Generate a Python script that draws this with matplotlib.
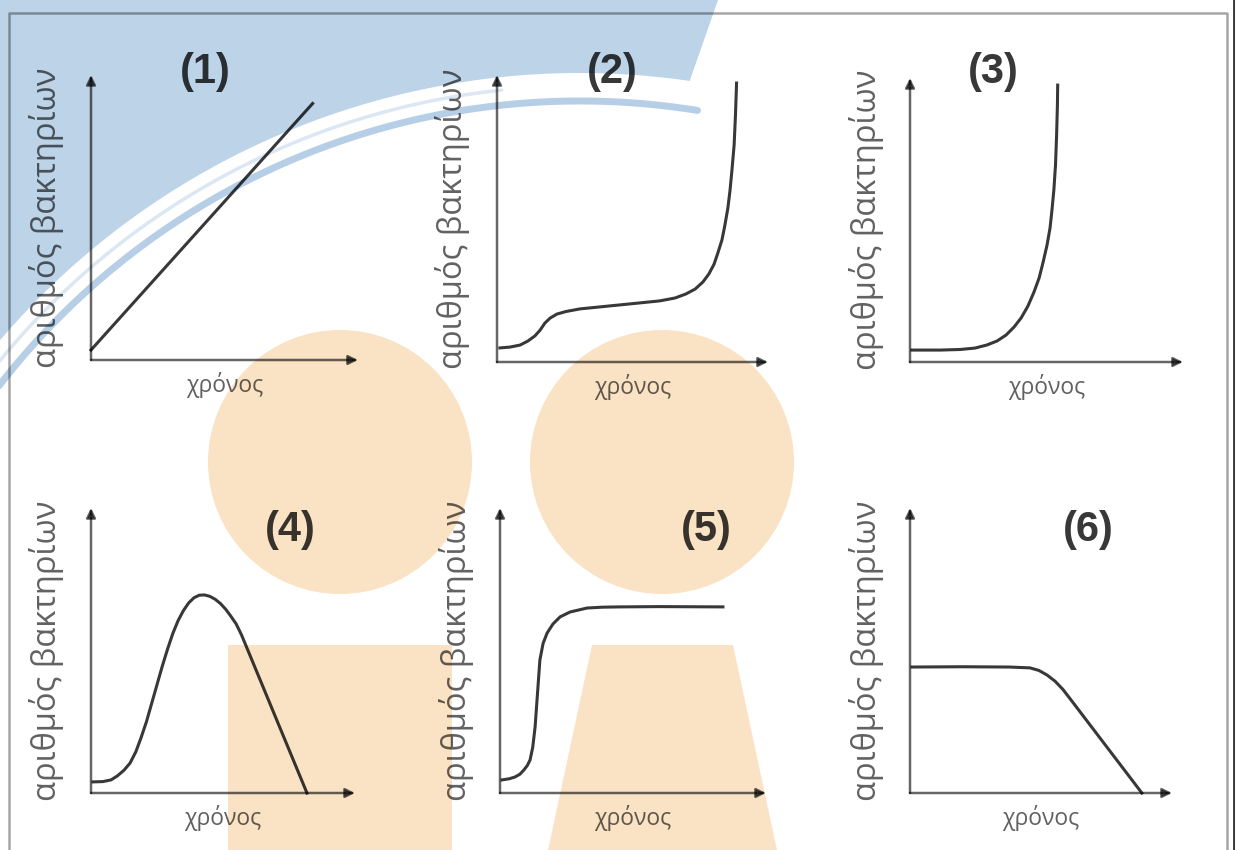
import numpy as np
import matplotlib
matplotlib.use("Agg")
import matplotlib.pyplot as plt
from matplotlib.patches import Polygon, Circle, Rectangle

W, H = 1235, 850

# text
ylabel = "αριθμός βακτηρίων"
xlabel = "χρόνος"
panel_names = ["(1)", "(2)", "(3)", "(4)", "(5)", "(6)"]

# curves (x: time 0-100, y: bacteria 0-100, 100 = arrow tip)
t1 = [0, 83]
n1 = [3.5, 90]

t2 = [1.1, 4.8, 8.5, 11.4, 14.0, 15.9, 17.7, 19.6, 22.1, 25.5, 30.6, 38.0, 45.4, 52.8, 60.1,
      65.7, 69.7, 73.1, 76.0, 78.2, 80.1, 81.5, 83.0, 84.1, 85.2, 86.0, 86.7, 87.5, 88.0, 88.4]
n2 = [4.9, 5.2, 5.9, 7.3, 9.1, 11.1, 13.6, 15.3, 16.7, 17.6, 18.5, 19.2, 19.9, 20.6, 21.3,
      22.3, 23.7, 25.4, 27.9, 30.7, 34.1, 38.0, 42.5, 47.7, 53.7, 59.9, 66.9, 75.6, 86.1, 97.2]

t3 = [0.7, 11.0, 18.3, 23.8, 28.2, 31.9, 35.2, 38.1, 40.7, 43.2, 45.4, 47.3, 48.7, 50.2, 51.3,
      52.0, 52.7, 53.3, 53.7, 54.0, 54.1]
n3 = [4.2, 4.2, 4.4, 4.9, 6.0, 7.4, 9.5, 12.3, 15.5, 19.7, 24.6, 29.6, 34.9, 41.2, 47.2,
      53.5, 60.6, 69.4, 79.9, 90.5, 97.5]

t4 = [0.8, 4.5, 7.6, 10.0, 12.5, 14.8, 17.0, 19.0, 21.0, 23.0, 25.0, 27.0, 29.0, 31.0, 33.0,
      35.0, 37.0, 39.0, 41.0, 43.0, 45.0, 47.0, 49.0, 51.0, 53.0, 55.0, 57.0, 81.8]
n4 = [3.9, 4.0, 4.6, 6.0, 8.0, 10.5, 14.5, 19.5, 25.0, 31.5, 38.0, 44.5, 50.5, 56.0, 60.5,
      64.0, 66.7, 68.5, 69.4, 69.5, 69.0, 68.0, 66.5, 64.5, 62.0, 59.3, 55.5, 0.0]

t5 = [0.8, 3.5, 5.6, 7.5, 9.0, 10.3, 11.3, 12.3, 13.2, 14.1, 15.0, 16.2, 17.7, 19.9, 22.6,
      26.3, 32.7, 38.5, 45.1, 60.0, 83.8]
n5 = [4.6, 5.0, 5.6, 6.6, 8.1, 9.7, 11.6, 16.0, 23.2, 35.0, 46.7, 52.5, 56.1, 59.3, 61.8,
      63.5, 64.9, 65.2, 65.3, 65.4, 65.3]

t6 = [0.8, 20.0, 38.0, 45.8, 49.2, 52.3, 55.4, 58.4, 61.5, 88.5]
n6 = [44.2, 44.3, 44.2, 43.9, 43.0, 41.4, 39.2, 36.3, 32.6, 0.0]

curves = [(t1, n1), (t2, n2), (t3, n3), (t4, n4), (t5, n5), (t6, n6)]

# layout in pixels: origin x, origin y, x arrow tip, y arrow tip
panel_px = [(91, 360, 358, 75), (497, 362, 768, 75), (910, 362, 1183, 78),
            (91, 793, 355, 508), (500, 793, 766, 508), (910, 793, 1172, 508)]
name_px = [(205, 72), (612, 72), (993, 72), (290, 530), (706, 530), (1088, 530)]

fig = plt.figure(figsize=(W / 100, H / 100), dpi=100)
fig.patch.set_facecolor("white")

# background decoration
bg = fig.add_axes([0, 0, 1, 1])
bg.set_xlim(0, W)
bg.set_ylim(H, 0)
bg.axis("off")

cx, cy, r0 = 580, 836, 763
th = np.radians(np.linspace(81.7, 150, 120))
arc = np.column_stack([cx + r0 * np.cos(th), cy - r0 * np.sin(th)])
blue = np.vstack([[[-20, -20], [720, -20], [718, 0], [690, 80]], arc, [[-20, 400]]])
bg.add_patch(Polygon(blue, closed=True, facecolor="#bcd3e8", edgecolor="none", zorder=1))

for r, a0, lw, col in [(750, 96, 2.5, "#dbe7f3"), (735, 80.8, 5, "#b6cee6")]:
    th = np.radians(np.linspace(a0, 150, 120))
    bg.plot(cx + r * np.cos(th), cy - r * np.sin(th), color=col, lw=lw,
            solid_capstyle="round", zorder=2)

peach = "#fae2c4"
bg.add_patch(Circle((340, 462), 132, facecolor=peach, edgecolor="none", zorder=1))
bg.add_patch(Circle((662, 462), 132, facecolor=peach, edgecolor="none", zorder=1))
bg.add_patch(Rectangle((228, 645), 224, 210, facecolor=peach, edgecolor="none", zorder=1))
bg.add_patch(Polygon([(592, 645), (733, 645), (778, 855), (547, 855)], closed=True,
                     facecolor=peach, edgecolor="none", zorder=1))

# page frame
bg.plot([9, 9, 1227, 1227], [855, 13, 13, 855], color="black", alpha=0.35, lw=1.8, zorder=3)
bg.plot([1233.5, 1233.5], [0, 850], color="black", alpha=0.8, lw=2, zorder=3)

for i, (ox, oy, xt, yt) in enumerate(panel_px):
    w, h = xt - ox, oy - yt
    ax = fig.add_axes([ox / W, 1 - oy / H, w / W, h / H])
    ax.set_xlim(0, 100)
    ax.set_ylim(0, 100)
    ax.axis("off")
    ax.patch.set_alpha(0)

    for tip in [(1, 0), (0, 1)]:
        ax.annotate("", xy=tip, xytext=(0, 0), xycoords="axes fraction",
                    arrowprops=dict(arrowstyle="-|>", color="black", alpha=0.6, lw=1.8,
                                    mutation_scale=14, shrinkA=0, shrinkB=0))

    t, n = curves[i]
    ax.plot(t, n, color="black", alpha=0.78, lw=2.2, solid_joinstyle="round", clip_on=False)

    ax.text(-44 / w, 0.5, ylabel, rotation=90, transform=ax.transAxes, ha="center",
            va="center", fontsize=23.5, color="black", alpha=0.62,
            family=["Open Sans", "DejaVu Sans"])
    ax.text(0.5, -25 / h, xlabel, transform=ax.transAxes, ha="center", va="center",
            fontsize=16.5, color="black", alpha=0.62, family=["Open Sans", "DejaVu Sans"])

    nx, ny = name_px[i]
    fig.text(nx / W, 1 - ny / H, panel_names[i], ha="center", va="center", fontsize=30,
             fontweight="bold", color="black", alpha=0.78,
             family=["Liberation Sans Narrow", "Liberation Sans"])

plt.savefig("out.png", dpi=100)
